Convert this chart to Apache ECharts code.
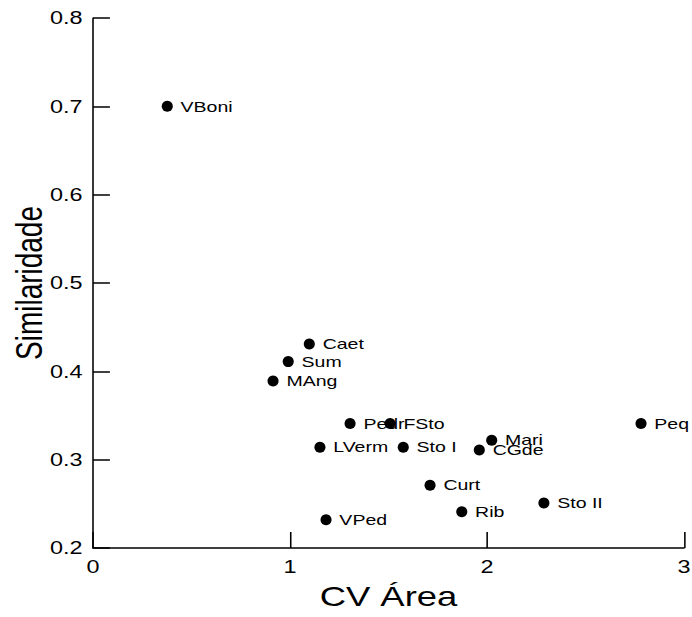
<!DOCTYPE html>
<html>
<head>
<meta charset="utf-8">
<script src="https://cdn.jsdelivr.net/npm/echarts@6/dist/echarts.min.js"></script>
<style>
html,body{margin:0;padding:0;background:#fff;overflow:hidden;width:692px;height:617px;}
#chart{width:532px;height:617px;transform:scaleX(1.3008);transform-origin:0 0;}
</style>
</head>
<body>
<div id="chart"></div>
<script>
// Data
const names = ['VBoni','Caet','Sum','MAng','Pedr','FSto','LVerm','Sto I','Mari','CGde','Peq','Curt','Rib','Sto II','VPed'];
const cvArea = [0.377,1.098,0.991,0.914,1.305,1.508,1.152,1.575,2.024,1.961,2.782,1.711,1.872,2.289,1.183];
const similaridade = [0.70,0.431,0.411,0.389,0.341,0.341,0.314,0.314,0.322,0.311,0.341,0.271,0.241,0.251,0.232];
const xTicks = [0,1,2,3];
const yTicks = [0.2,0.3,0.4,0.5,0.6,0.7,0.8];

const FONT = "'Liberation Sans', Arial, sans-serif";
const chart = echarts.init(document.getElementById('chart'), null, {renderer:'svg'});
const pts = names.map((n,i)=>({name:n, value:[cvArea[i], similaridade[i]]}));

chart.setOption({
  animation:false,
  backgroundColor:'#fff',
  grid:{left:71.5, right:6.2, top:18, bottom:69, containLabel:false, outerBoundsMode:'none'},
  xAxis:{
    type:'value', min:xTicks[0], max:xTicks[xTicks.length-1], interval:1,
    name:'CV Área', nameLocation:'middle', nameGap:35, nameMoveOverlap:false,
    nameTextStyle:{fontFamily:FONT, fontSize:28, color:'#000'},
    axisLine:{show:true, onZero:false, lineStyle:{color:'#000', width:1.5}},
    axisTick:{show:true, inside:true, length:16, lineStyle:{color:'#000', width:1.2}},
    axisLabel:{fontFamily:FONT, fontSize:18, color:'#000', margin:10},
    splitLine:{show:false}
  },
  yAxis:{
    type:'value', min:yTicks[0], max:yTicks[yTicks.length-1], interval:0.1,
    name:'Similaridade', nameLocation:'middle', nameGap:35, nameRotate:90, nameMoveOverlap:false,
    nameTextStyle:{fontFamily:FONT, fontSize:28, color:'#000'},
    axisLine:{show:true, onZero:false, lineStyle:{color:'#000', width:1.2}},
    axisTick:{show:true, inside:true, length:13, lineStyle:{color:'#000', width:1.5}},
    axisLabel:{fontFamily:FONT, fontSize:18, color:'#000', margin:8, formatter:v=>v.toFixed(1)},
    splitLine:{show:false}
  },
  series:[{
    type:'scatter',
    data:pts,
    symbol:'circle',
    symbolSize:[8.5,11],
    itemStyle:{color:'#000', opacity:1},
    label:{show:true, position:'right', distance:6, formatter:'{b}', fontFamily:FONT, fontSize:15, color:'#000'},
    labelLayout:{hideOverlap:false}
  }]
});
</script>
</body>
</html>
